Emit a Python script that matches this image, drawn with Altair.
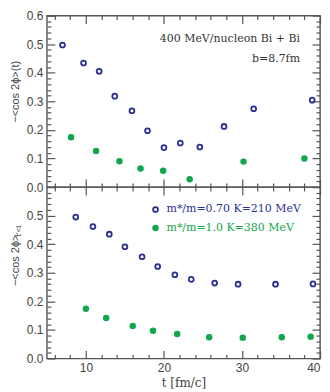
import altair as alt
import pandas as pd

# ---------------- data ----------------
t_top_open = [7.0, 9.7, 11.7, 13.7, 15.9, 17.9, 20.0, 22.1, 24.6, 27.7, 31.5, 39.0]
v_top_open = [0.497, 0.434, 0.405, 0.318, 0.267, 0.197, 0.138, 0.154, 0.140, 0.212, 0.274, 0.304]
t_top_fill = [8.1, 11.3, 14.3, 17.0, 19.9, 23.3, 30.2, 38.0]
v_top_fill = [0.174, 0.126, 0.090, 0.065, 0.057, 0.027, 0.089, 0.100]

t_bot_open = [8.7, 10.9, 13.0, 15.0, 17.2, 19.2, 21.4, 23.5, 26.5, 29.5, 34.3, 39.1]
v_bot_open = [0.495, 0.462, 0.435, 0.391, 0.356, 0.322, 0.293, 0.277, 0.264, 0.260, 0.260, 0.261]
t_bot_fill = [10.0, 12.6, 16.0, 18.6, 21.7, 25.8, 30.1, 35.1, 38.8]
v_bot_fill = [0.174, 0.142, 0.114, 0.097, 0.086, 0.074, 0.073, 0.074, 0.076]

series_labels = ["m*/m=0.70 K=210 MeV", "m*/m=1.0 K=380 MeV"]
annot_lines = ["400 MeV/nucleon Bi + Bi", "b=8.7fm"]
x_title = "t [fm/c]"
y_title_top = "\u2212<cos 2\u03d5>(t)"
y_title_bot = "\u2212<cos 2\u03d5>"
y_sub_bot = "t\u2032<t"

x_major = [10, 20, 30, 40]
x_minor = [v for v in range(6, 40, 2) if v % 10 != 0]
y_major = [round(0.1 * i, 1) for i in range(0, 7)]
y_major_bot = [round(0.1 * i, 1) for i in range(0, 6)]
y_minor = [round(0.02 * i, 2) for i in range(0, 31) if i % 5 != 0]

BLUE = "#2b2f94"
GREEN = "#12a64c"
AX = "#555555"
TXT = "#444444"
W, H = 274, 172
MAJ, MIN = 8, 4

xs = alt.Scale(domain=[5, 40], nice=False, zero=False)
ys = alt.Scale(domain=[0, 0.6], nice=False, zero=False)


def ax(orient, values, size, labels=False, title=None, **kw):
    args = dict(orient=orient, values=values, tickSize=size, offset=-size,
                domain=False, grid=False, labels=labels, tickColor=AX,
                tickWidth=1.2, labelColor=TXT, titleColor=TXT)
    if title is not None:
        args["title"] = title
    else:
        args["title"] = None
    args.update(kw)
    return alt.Axis(**args)


def panel(to, vo, tf, vf, bottom, ytitle, ylabvals, extra):
    d_open = pd.DataFrame({"t": to, "v": vo})
    d_fill = pd.DataFrame({"t": tf, "v": vf})
    if bottom:
        xmaj = ax("bottom", x_major, MAJ, labels=True, title=x_title,
                  labelPadding=4, labelFont="Liberation Sans", labelFontSize=12,
                  titleFont="DejaVu Serif", titleFontSize=12, titleFontWeight="normal",
                  titlePadding=4)
    else:
        xmaj = ax("bottom", x_major, MAJ)
    ymaj_kw = dict(labelPadding=4, labelFont="Liberation Sans", labelFontSize=12,
                   format=".1f", titleFont="Liberation Sans", titleFontSize=11,
                   titleFontWeight="normal", titlePadding=6)
    ymaj_kw.update(ytitle[1])
    l1 = alt.Chart(d_open).mark_point(shape="circle", filled=False, size=24,
                                      strokeWidth=1.8, color=BLUE, opacity=1).encode(
        x=alt.X("t:Q", scale=xs, axis=xmaj),
        y=alt.Y("v:Q", scale=ys, axis=ax("left", ylabvals, MAJ, labels=True,
                                         title=ytitle[0], **ymaj_kw)),
    )
    l2 = alt.Chart(d_fill).mark_circle(size=42, color=GREEN, opacity=1).encode(
        x=alt.X("t:Q", scale=xs, axis=ax("bottom", x_minor, MIN)),
        y=alt.Y("v:Q", scale=ys, axis=ax("left", y_minor, MIN)),
    )
    l3 = alt.Chart(d_fill).mark_circle(size=1, opacity=0).encode(
        x=alt.X("t:Q", scale=xs, axis=ax("top", x_major, MAJ)),
        y=alt.Y("v:Q", scale=ys, axis=ax("right", y_major, MAJ)),
    )
    l4 = alt.Chart(d_fill).mark_circle(size=1, opacity=0).encode(
        x=alt.X("t:Q", scale=xs, axis=ax("top", x_minor, MIN)),
        y=alt.Y("v:Q", scale=ys, axis=ax("right", y_minor, MIN)),
    )
    y_left = alt.Chart(d_fill).mark_circle(size=1, opacity=0).encode(
        x=alt.X("t:Q", scale=xs, axis=None),
        y=alt.Y("v:Q", scale=ys, axis=ax("left", [0.6], MAJ)),
    )
    return alt.layer(l1, l2, l3, l4, y_left, *extra).resolve_axis(
        x="independent", y="independent").properties(width=W, height=H)


# annotations (top panel)
ann = pd.DataFrame({"txt": annot_lines})
ann1 = alt.Chart(ann.iloc[[0]]).mark_text(align="right", baseline="middle",
                                          font="DejaVu Serif", fontSize=11,
                                          color="#333333").encode(
    text="txt:N", x=alt.value(254), y=alt.value(24))
ann2 = alt.Chart(ann.iloc[[1]]).mark_text(align="right", baseline="middle",
                                          font="DejaVu Serif", fontSize=11,
                                          color="#333333").encode(
    text="txt:N", x=alt.value(254), y=alt.value(43.5))

# legend (bottom panel)
leg = pd.DataFrame({"lab": series_labels})
lg_p1 = alt.Chart(leg.iloc[[0]]).mark_point(shape="circle", filled=False, size=24,
                                            strokeWidth=1.8, color=BLUE, opacity=1).encode(
    x=alt.value(109), y=alt.value(22.5))
lg_p2 = alt.Chart(leg.iloc[[1]]).mark_circle(size=42, color=GREEN, opacity=1).encode(
    x=alt.value(109), y=alt.value(41))
lg_t1 = alt.Chart(leg.iloc[[0]]).mark_text(align="left", baseline="middle",
                                           font="DejaVu Serif", fontSize=11,
                                           color=BLUE).encode(
    text="lab:N", x=alt.value(120), y=alt.value(22.5))
lg_t2 = alt.Chart(leg.iloc[[1]]).mark_text(align="left", baseline="middle",
                                           font="DejaVu Serif", fontSize=11,
                                           color=GREEN).encode(
    text="lab:N", x=alt.value(120), y=alt.value(41))
sub = alt.Chart(pd.DataFrame({"s": [y_sub_bot]})).mark_text(
    angle=270, align="center", baseline="alphabetic", font="Liberation Sans",
    fontSize=8, color=TXT).encode(text="s:N", x=alt.value(-26), y=alt.value(44))

top = panel(t_top_open, v_top_open, t_top_fill, v_top_fill, False,
            (y_title_top, {"titleY": 76}), y_major, [ann1, ann2])
bot = panel(t_bot_open, v_bot_open, t_bot_fill, v_bot_fill, True,
            (y_title_bot, {"titleY": 73}), y_major_bot,
            [lg_p1, lg_p2, lg_t1, lg_t2, sub])

chart = alt.vconcat(top, bot, spacing=0, bounds="flush").properties(
    padding={"top": 0, "left": 0, "right": 0, "bottom": 0}
).configure_view(stroke=AX, strokeWidth=1.4)

chart.save("out.html", embed_options={"renderer": "svg", "actions": False})
